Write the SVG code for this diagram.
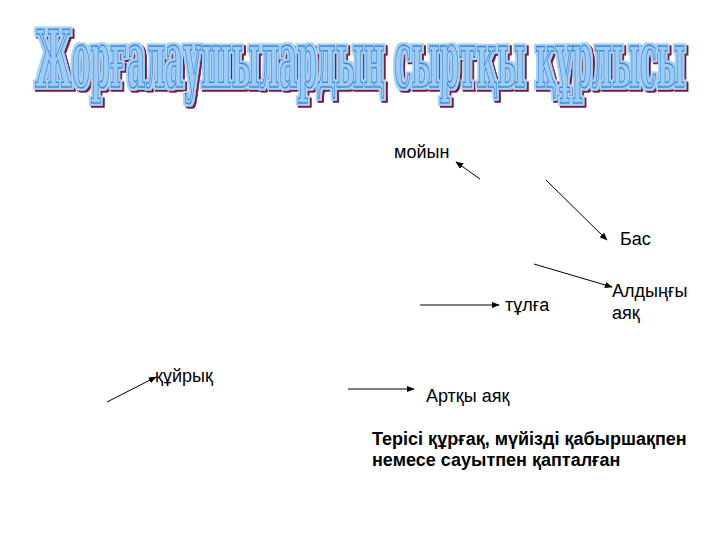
<svg xmlns="http://www.w3.org/2000/svg" width="720" height="540" viewBox="0 0 720 540">
<defs>
<marker id="ah" viewBox="0 0 10 10" refX="9" refY="5" markerWidth="8" markerHeight="8" markerUnits="userSpaceOnUse" orient="auto">
<path d="M0,1 L10,5 L0,9 Z" fill="#000"/>
</marker>
<filter id="wa" x="-3%" y="-30%" width="106%" height="160%">
<feMorphology in="SourceAlpha" operator="dilate" radius="2" result="d"/>
<feFlood flood-color="#a6d2f7" result="c1"/>
<feComposite in="c1" in2="d" operator="in" result="halo"/>
<feOffset in="d" dx="2" dy="2" result="od"/>
<feFlood flood-color="#7a1a3a" result="c2"/>
<feComposite in="c2" in2="od" operator="in" result="shadow"/>
<feMerge><feMergeNode in="shadow"/><feMergeNode in="halo"/><feMergeNode in="SourceGraphic"/></feMerge>
</filter>
</defs>
<style>
.lbl{font-family:"Liberation Sans",Arial,sans-serif;font-size:18px;fill:#000}
.note{font-family:"Liberation Sans",Arial,sans-serif;font-size:18px;font-weight:bold;fill:#000}
.conn line{stroke:#000;stroke-width:1;marker-end:url(#ah)}
.ttl{font-family:"DejaVu Serif","Liberation Serif",serif;font-stretch:condensed;font-size:26px;font-weight:bold;fill:#9ccbf3;stroke:#3a85dc;stroke-width:0.5}
</style>
<rect width="720" height="540" fill="#fff"/>
<g id="title" filter="url(#wa)">
<text class="ttl" transform="scale(1,3.05)" x="35" y="28.5" textLength="650" lengthAdjust="spacingAndGlyphs">Жорғалаушылардың сыртқы құрлысы</text>
</g>
<g id="connectors" class="conn">
<line x1="480" y1="179" x2="456" y2="162"/>
<line x1="546" y1="180" x2="607" y2="240"/>
<line x1="534" y1="264" x2="612" y2="287"/>
<line x1="420" y1="305" x2="499" y2="305"/>
<line x1="107" y1="402" x2="156" y2="377"/>
<line x1="348" y1="389" x2="414" y2="389"/>
</g>
<g id="node-moiyn"><text class="lbl" x="394" y="158">мойын</text></g>
<g id="node-bas"><text class="lbl" x="620" y="245">Бас</text></g>
<g id="node-aldyngy"><text class="lbl" x="612" y="297">Алдыңғы</text><text class="lbl" x="612" y="319">аяқ</text></g>
<g id="node-tulga"><text class="lbl" x="505" y="311">тұлға</text></g>
<g id="node-kuiryk"><text class="lbl" x="155" y="382">құйрық</text></g>
<g id="node-artky"><text class="lbl" x="426" y="402">Артқы аяқ</text></g>
<g id="node-note"><text class="note" x="372" y="445">Терісі құрғақ, мүйізді қабыршақпен</text><text class="note" x="372" y="466">немесе сауытпен қапталған</text></g>
</svg>
